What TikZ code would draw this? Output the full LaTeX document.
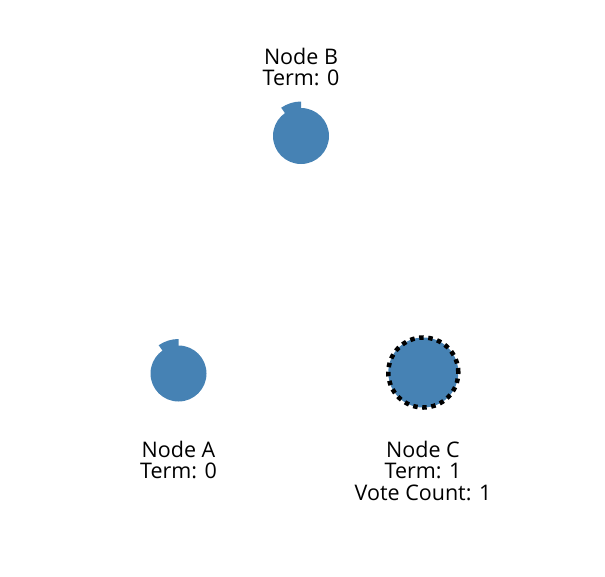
\documentclass[tikz,border=0pt]{standalone}
\usepackage{fontspec}
\setmainfont{Open Sans}
\definecolor{steel}{HTML}{4682B4}
\begin{document}
\begin{tikzpicture}[x=1pt,y=-1pt,
  raftnode/.style={circle,fill=steel,draw=none,inner sep=0pt,minimum size=56pt},
  candidate/.style={circle,fill=steel,draw=black,line width=4.5pt,dash pattern=on 4.5pt off 4.6pt,inner sep=0pt,minimum size=70pt},
  timer/.style={fill=steel,draw=none},
  lbl/.style={align=center,anchor=north,inner sep=0pt,font=\fontsize{21.5}{21.5}\selectfont}]
\useasboundingbox (0,0) rectangle (605,576);
% Node B
\node[raftnode] (B) at (301,136) {};
\fill[timer] (B.center) -- ++(0,-34.5) arc[start angle=270,end angle=235,radius=34.5] -- cycle;
\node[lbl] (lB) at (301,47.5) {Node B\\Term: 0};
% Node A
\node[raftnode] (A) at (178.5,373.5) {};
\fill[timer] (A.center) -- ++(0,-34.5) arc[start angle=270,end angle=235,radius=34.5] -- cycle;
\node[lbl] (lA) at (178.5,440.5) {Node A\\Term: 0};
% Node C
\node[candidate] (C) at (423.3,372.5) {};
\node[lbl] (lC) at (423,440.5) {Node C\\Term: 1\\Vote Count: 1};
\end{tikzpicture}
\end{document}
